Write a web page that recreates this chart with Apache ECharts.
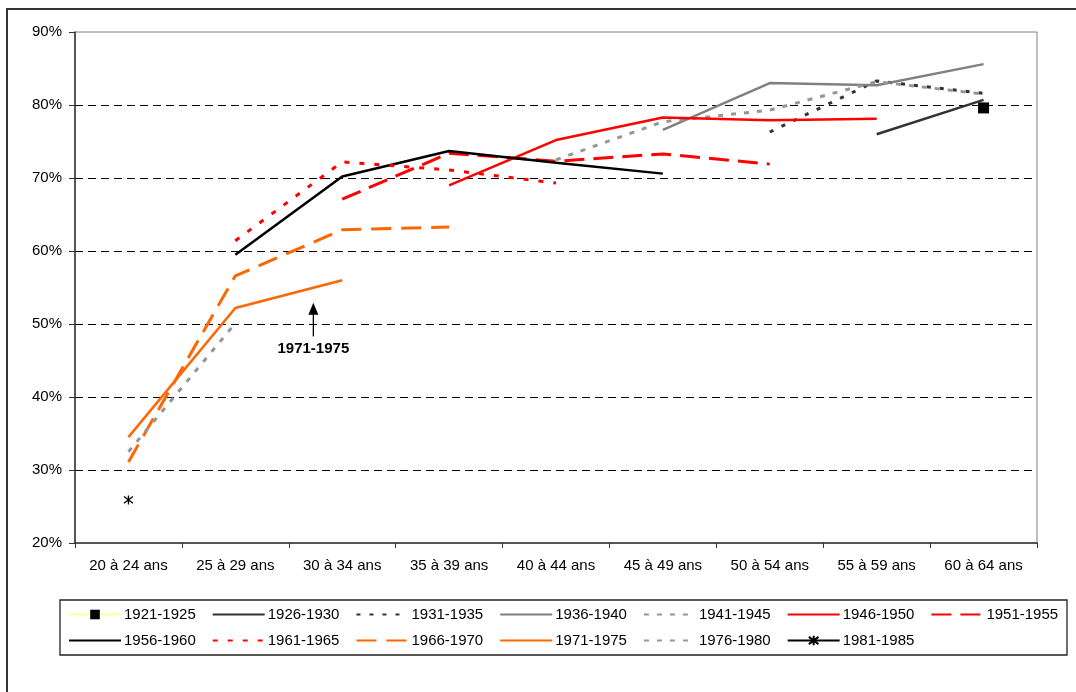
<!DOCTYPE html>
<html>
<head>
<meta charset="utf-8">
<script src="https://cdn.jsdelivr.net/npm/echarts@6/dist/echarts.min.js"></script>
<style>
html,body{margin:0;padding:0;background:#fff;}
#c{width:1076px;height:692px;}
</style>
</head>
<body>
<div id="c"></div>
<script>
var categories = ['20 à 24 ans','25 à 29 ans','30 à 34 ans','35 à 39 ans','40 à 44 ans','45 à 49 ans','50 à 54 ans','55 à 59 ans','60 à 64 ans'];
var yTicks = { min: 20, max: 90, interval: 10 };

var g1921 = [null, null, null, null, null, null, null, null, 79.6];
var g1926 = [null, null, null, null, null, null, null, 76.0, 80.7];
var g1931 = [null, null, null, null, null, null, 76.3, 83.3, 81.6];
var g1936 = [null, null, null, null, null, 76.6, 83.0, 82.7, 85.6];
var g1941 = [null, null, null, null, 72.5, 77.7, 79.3, 83.2, 81.5];
var g1946 = [null, null, null, 69.0, 75.2, 78.3, 77.9, 78.1, null];
var g1951 = [null, null, 67.1, 73.4, 72.3, 73.3, 71.9, null, null];
var g1956 = [null, 59.5, 70.2, 73.7, 72.1, 70.6, null, null, null];
var g1961 = [null, 61.4, 72.2, 71.1, 69.3, null, null, null, null];
var g1966 = [31.1, 56.6, 62.9, 63.3, null, null, null, null, null];
var g1971 = [34.5, 52.2, 56.0, null, null, null, null, null, null];
var g1976 = [32.5, 50.1, null, null, null, null, null, null, null];
var g1981 = [25.9, null, null, null, null, null, null, null, null];

var annotationLabel = '1971-1975';

var FONT = '"Liberation Sans", Arial, sans-serif';
var starPath = 'path://M5,0L5,10M1.2,1.2L8.8,8.8M1.2,8.8L8.8,1.2';

function line(name, data, color, width, dash, extra) {
  var s = {
    name: name, type: 'line', data: data,
    symbol: 'none',
    lineStyle: { color: color, width: width, type: dash || 'solid', cap: 'butt' },
    itemStyle: { color: color },
    emphasis: { disabled: true },
    z: 3
  };
  if (extra) for (var k in extra) s[k] = extra[k];
  return s;
}

var series = [
  line('1921-1925', g1921, '#FFFF99', 1, 'solid', {
    symbol: 'rect', symbolSize: 11, showSymbol: true,
    itemStyle: { color: '#000' }, z: 5
  }),
  line('1926-1930', g1926, '#333333', 2.5),
  line('1931-1935', g1931, '#333333', 3, [4, 9]),
  line('1936-1940', g1936, '#808080', 2.5),
  line('1941-1945', g1941, '#969696', 3, [5, 8]),
  line('1946-1950', g1946, '#FF0000', 2.5),
  line('1951-1955', g1951, '#FF0000', 3, [20, 9]),
  line('1956-1960', g1956, '#000000', 2.5),
  line('1961-1965', g1961, '#FF0000', 3, [5, 10]),
  line('1966-1970', g1966, '#FF6600', 3, [20, 10]),
  line('1971-1975', g1971, '#FF6600', 2.5),
  line('1976-1980', g1976, '#969696', 3, [5, 8]),
  line('1981-1985', g1981, '#000000', 2, 'solid', {
    symbol: starPath, symbolSize: 9, showSymbol: true,
    itemStyle: { color: 'none', borderColor: '#000', borderWidth: 1.3 }, z: 5
  })
];

function legendData(list) {
  return list.map(function (s) {
    if (s.symbol === 'none') return { name: s.name, itemStyle: { opacity: 0 } };
    return { name: s.name };
  });
}

var legendCommon = {
  left: 68, orient: 'horizontal', itemWidth: 52, itemHeight: 12, itemGap: 16,
  selectedMode: false,
  textStyle: { fontFamily: FONT, fontSize: 15, color: '#000', padding: [0, 0, 0, -2] },
  padding: 0
};

var chart = echarts.init(document.getElementById('c'), null, { renderer: 'canvas' });
var option = {
  animation: false,
  backgroundColor: '#fff',
  textStyle: { fontFamily: FONT },
  grid: { left: 75, right: 39, top: 32, bottom: 149, show: true, borderColor: '#808080', borderWidth: 1, backgroundColor: 'transparent' },
  legend: [
    Object.assign({}, legendCommon, { top: 607, data: legendData(series.slice(0, 7)) }),
    Object.assign({}, legendCommon, { top: 633, data: legendData(series.slice(7)) })
  ],
  xAxis: {
    type: 'category', data: categories, boundaryGap: true,
    axisLine: { lineStyle: { color: '#333', width: 1.5 } },
    axisTick: { show: true, length: 5, alignWithLabel: false, lineStyle: { color: '#333' } },
    axisLabel: { fontFamily: FONT, fontSize: 15, color: '#000', margin: 15, interval: 0 },
    splitLine: { show: false }
  },
  yAxis: {
    type: 'value', min: yTicks.min, max: yTicks.max, interval: yTicks.interval,
    axisLine: { show: true, lineStyle: { color: '#333', width: 1.5 } },
    axisTick: { show: true, length: 6, lineStyle: { color: '#333' } },
    axisLabel: { fontFamily: FONT, fontSize: 15, color: '#000', margin: 13, formatter: '{value}%' },
    splitLine: { show: true, showMinLine: false, showMaxLine: false, lineStyle: { color: '#000', width: 1, type: [8, 5] } }
  },
  series: series
};
chart.setOption(option);

// annotation placed relative to the axes
var p1 = chart.convertToPixel({ gridIndex: 0 }, [categories[1], 0]);
var p2 = chart.convertToPixel({ gridIndex: 0 }, [categories[2], 0]);
var ax = p1[0] + (p2[0] - p1[0]) * 0.73;
var yTop = chart.convertToPixel({ gridIndex: 0 }, [categories[1], 52.9])[1];
var yShaftTop = chart.convertToPixel({ gridIndex: 0 }, [categories[1], 51.4])[1];
var yBottom = chart.convertToPixel({ gridIndex: 0 }, [categories[1], 48.3])[1];
var yText = chart.convertToPixel({ gridIndex: 0 }, [categories[1], 46.6])[1];

chart.setOption({
  graphic: [
    { type: 'rect', shape: { x: 7, y: 9, width: 1200, height: 900 }, style: { fill: 'none', stroke: '#333', lineWidth: 2 }, silent: true, z: 0 },
    { type: 'rect', shape: { x: 60, y: 600, width: 1007, height: 55 }, style: { fill: 'none', stroke: '#222', lineWidth: 1.3 }, silent: true, z: 0 },
    { type: 'line', shape: { x1: ax, y1: yBottom, x2: ax, y2: yShaftTop }, style: { stroke: '#000', lineWidth: 1.3 }, silent: true, z: 10 },
    { type: 'polygon', shape: { points: [[ax, yTop], [ax - 5, yShaftTop + 1], [ax + 5, yShaftTop + 1]] }, style: { fill: '#000' }, silent: true, z: 10 },
    { type: 'text', x: ax, y: yText, style: { text: annotationLabel, fontFamily: FONT, fontSize: 15, fontWeight: 'bold', fill: '#000', align: 'center', verticalAlign: 'middle' }, silent: true, z: 10 }
  ]
});
</script>
</body>
</html>
